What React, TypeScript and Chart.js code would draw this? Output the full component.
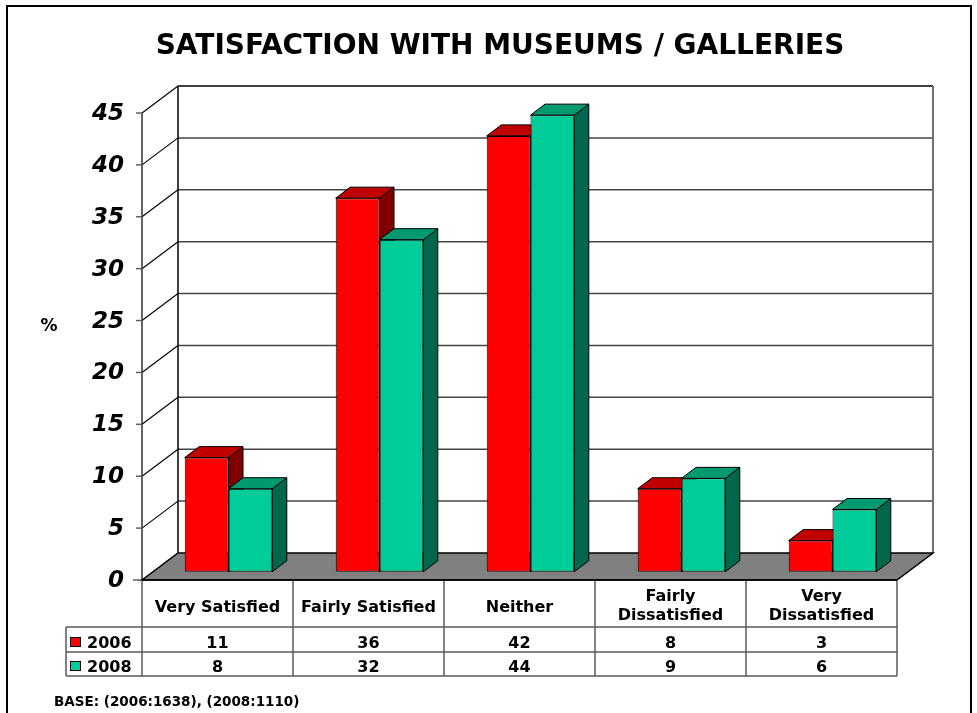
import React, { useEffect, useRef } from 'react';
import { Chart, registerables } from 'chart.js';

Chart.register(...registerables);

const CATEGORIES: (string | string[])[] = [
  'Very Satisfied',
  'Fairly Satisfied',
  'Neither',
  ['Fairly', 'Dissatisfied'],
  ['Very', 'Dissatisfied'],
];
const SERIES_NAMES = ['2006', '2008'];
const VALUES_2006 = [11, 36, 42, 8, 3];
const VALUES_2008 = [8, 32, 44, 9, 6];
const Y_TICKS = [0, 5, 10, 15, 20, 25, 30, 35, 40, 45];
const TITLE = 'SATISFACTION WITH MUSEUMS / GALLERIES';
const Y_TITLE = '%';
const FOOTNOTE = 'BASE: (2006:1638), (2008:1110)';

const FRONT_COLORS = ['#FF0000', '#00CC99'];
const TOP_COLORS = ['#C00000', '#009970'];
const SIDE_COLORS = ['#800000', '#00664C'];

const FONT = "'DejaVu Sans', Verdana, sans-serif";

// pseudo-3D depth offsets (pixels)
const BAR_FRONT = { dx: 11, dy: 8.25 }; // bar front plane relative to front plane
const BAR_DEPTH = { dx: 14.5, dy: 11 };
const WALL = { dx: 36, dy: 27 };

function seg(ctx: CanvasRenderingContext2D, x1: number, y1: number, x2: number, y2: number) {
  ctx.beginPath();
  ctx.moveTo(x1, y1);
  ctx.lineTo(x2, y2);
  ctx.stroke();
}

function poly(ctx: CanvasRenderingContext2D, pts: number[][], fill: string) {
  ctx.beginPath();
  ctx.moveTo(pts[0][0], pts[0][1]);
  for (let i = 1; i < pts.length; i++) ctx.lineTo(pts[i][0], pts[i][1]);
  ctx.closePath();
  ctx.fillStyle = fill;
  ctx.fill();
  ctx.stroke();
}

const pseudo3d = {
  id: 'pseudo3d',
  beforeDraw(chart: any) {
    const ctx: CanvasRenderingContext2D = chart.ctx;
    ctx.save();
    ctx.fillStyle = '#ffffff';
    ctx.fillRect(0, 0, chart.width, chart.height);
    ctx.strokeStyle = '#000';
    ctx.lineWidth = 2;
    ctx.strokeRect(7, 6, 964, 720);
    ctx.fillStyle = '#000';
    ctx.font = `bold 28px ${FONT}`;
    ctx.textAlign = 'center';
    ctx.textBaseline = 'alphabetic';
    ctx.fillText(TITLE, 500, 54);
    ctx.font = `bold 17px ${FONT}`;
    ctx.textBaseline = 'middle';
    ctx.fillText(Y_TITLE, 49, 327);
    ctx.restore();
  },
  beforeDatasetsDraw(chart: any) {
    const ctx: CanvasRenderingContext2D = chart.ctx;
    const xs = chart.scales.x;
    const ys = chart.scales.y;
    const left = xs.left - BAR_FRONT.dx;
    const right = xs.right - BAR_FRONT.dx;
    const yF = (v: number) => ys.getPixelForValue(v) + BAR_FRONT.dy;
    const top = Y_TICKS[Y_TICKS.length - 1];
    ctx.save();

    // back wall gridlines
    ctx.lineWidth = 1.5;
    ctx.strokeStyle = '#454545';
    for (const v of Y_TICKS) {
      if (v === 0) continue;
      if (v === top) ctx.strokeStyle = '#000';
      seg(ctx, left + WALL.dx, yF(v) - WALL.dy, right + WALL.dx, yF(v) - WALL.dy);
    }
    // back wall verticals
    ctx.strokeStyle = '#000';
    ctx.lineWidth = 1.5;
    seg(ctx, left + WALL.dx, yF(top) - WALL.dy, left + WALL.dx, yF(0) - WALL.dy);
    ctx.strokeStyle = '#707070';
    ctx.lineWidth = 2;
    seg(ctx, right + WALL.dx, yF(top) - WALL.dy, right + WALL.dx, yF(0) - WALL.dy);

    // left wall diagonals
    ctx.strokeStyle = '#000';
    ctx.lineWidth = 1.2;
    for (const v of Y_TICKS) {
      if (v === 0) continue;
      seg(ctx, left, yF(v), left + WALL.dx, yF(v) - WALL.dy);
    }
    // front axis
    ctx.strokeStyle = '#303030';
    ctx.lineWidth = 1.5;
    seg(ctx, left, yF(top), left, yF(0));
    // tick marks
    ctx.strokeStyle = '#606060';
    for (const v of Y_TICKS) {
      seg(ctx, v === 0 ? left - 9 : left - 6, yF(v), left, yF(v));
    }

    // floor
    ctx.strokeStyle = '#000';
    ctx.lineWidth = 1.5;
    poly(
      ctx,
      [
        [left, yF(0)],
        [right, yF(0)],
        [right + WALL.dx, yF(0) - WALL.dy],
        [left + WALL.dx, yF(0) - WALL.dy],
      ],
      '#808080'
    );

    // tick labels
    ctx.fillStyle = '#000';
    ctx.font = `italic bold 23px ${FONT}`;
    ctx.textAlign = 'right';
    ctx.textBaseline = 'middle';
    for (const v of Y_TICKS) {
      ctx.fillText(String(v), left - 18, yF(v) + 1);
    }

    // bar tops and sides
    ctx.strokeStyle = '#000';
    ctx.lineWidth = 1;
    ctx.lineJoin = 'miter';
    const n = CATEGORIES.length;
    for (let i = 0; i < n; i++) {
      chart.data.datasets.forEach((ds: any, d: number) => {
        const el = chart.getDatasetMeta(d).data[i];
        if (!el) return;
        const L = el.x - el.width / 2;
        const R = el.x + el.width / 2;
        const T = el.y;
        const B = el.base;
        const dx = BAR_DEPTH.dx;
        const dy = BAR_DEPTH.dy;
        poly(ctx, [[R, T], [R + dx, T - dy], [R + dx, B - dy], [R, B]], SIDE_COLORS[d]);
        poly(ctx, [[L, T], [R, T], [R + dx, T - dy], [L + dx, T - dy]], TOP_COLORS[d]);
      });
    }
    ctx.restore();
  },
  afterDraw(chart: any) {
    const ctx: CanvasRenderingContext2D = chart.ctx;
    const xs = chart.scales.x;
    const ys = chart.scales.y;
    const left = xs.left - BAR_FRONT.dx;
    const right = xs.right - BAR_FRONT.dx;
    const y0 = ys.getPixelForValue(0) + BAR_FRONT.dy;
    const n = CATEGORIES.length;
    const cw = (right - left) / n;
    const hb = y0 + 47;
    const r1 = y0 + 72;
    const r2 = y0 + 96;
    const legL = 66;
    ctx.save();
    ctx.strokeStyle = '#5a5a5a';
    ctx.lineWidth = 1.5;
    // horizontals
    seg(ctx, legL, hb, right, hb);
    seg(ctx, legL, r1, right, r1);
    seg(ctx, legL, r2, right, r2);
    // verticals
    seg(ctx, legL, hb, legL, r2);
    for (let i = 0; i <= n; i++) {
      const x = left + i * cw;
      seg(ctx, x, y0, x, r2);
    }
    // front floor edge
    ctx.strokeStyle = '#000';
    seg(ctx, left, y0, right, y0);

    ctx.fillStyle = '#000';
    ctx.font = `bold 16px ${FONT}`;
    ctx.textAlign = 'center';
    ctx.textBaseline = 'alphabetic';
    CATEGORIES.forEach((c, i) => {
      const cx = left + (i + 0.5) * cw;
      if (Array.isArray(c)) {
        ctx.fillText(c[0], cx, y0 + 21);
        ctx.fillText(c[1], cx, y0 + 40);
      } else {
        ctx.fillText(c, cx, y0 + 32);
      }
    });
    const rows = [VALUES_2006, VALUES_2008];
    const baselines = [y0 + 68, y0 + 92];
    rows.forEach((vals, r) => {
      vals.forEach((v, i) => {
        const cx = left + (i + 0.5) * cw;
        ctx.fillText(String(v), cx, baselines[r]);
      });
    });
    // legend keys
    ctx.textAlign = 'left';
    SERIES_NAMES.forEach((name, r) => {
      const by = baselines[r];
      ctx.fillStyle = FRONT_COLORS[r];
      ctx.fillRect(70.5, by - 10.5, 10, 9);
      ctx.strokeStyle = '#000';
      ctx.lineWidth = 1;
      ctx.strokeRect(70.5, by - 10.5, 10, 9);
      ctx.fillStyle = '#000';
      ctx.fillText(name, 87, by);
    });
    // footnote
    ctx.font = `bold 13.5px ${FONT}`;
    ctx.fillText(FOOTNOTE, 54, 706);
    ctx.restore();
  },
};

export default function App() {
  const ref = useRef<HTMLCanvasElement | null>(null);
  useEffect(() => {
    if (!ref.current) return;
    const chart = new Chart(ref.current, {
      type: 'bar',
      data: {
        labels: CATEGORIES as any,
        datasets: [
          {
            label: SERIES_NAMES[0],
            data: VALUES_2006,
            backgroundColor: FRONT_COLORS[0],
            borderColor: '#000',
            borderWidth: 1,
            borderSkipped: false,
          },
          {
            label: SERIES_NAMES[1],
            data: VALUES_2008,
            backgroundColor: FRONT_COLORS[1],
            borderColor: '#000',
            borderWidth: 1,
            borderSkipped: false,
          },
        ],
      },
      options: {
        responsive: false,
        animation: false,
        devicePixelRatio: 1,
        layout: { padding: { left: 153, right: 69, top: 104.75, bottom: 141.25 } },
        datasets: { bar: { categoryPercentage: 0.58, barPercentage: 1 } },
        scales: {
          x: { display: false },
          y: { display: false, min: 0, max: 45 },
        },
        plugins: {
          legend: { display: false },
          title: { display: false },
          tooltip: { enabled: false },
        },
      },
      plugins: [pseudo3d],
    });
    return () => chart.destroy();
  }, []);
  return (
    <div style={{ position: 'absolute', left: 0, top: 0, width: 977, height: 713 }}>
      <canvas ref={ref} width={977} height={713} />
    </div>
  );
}
